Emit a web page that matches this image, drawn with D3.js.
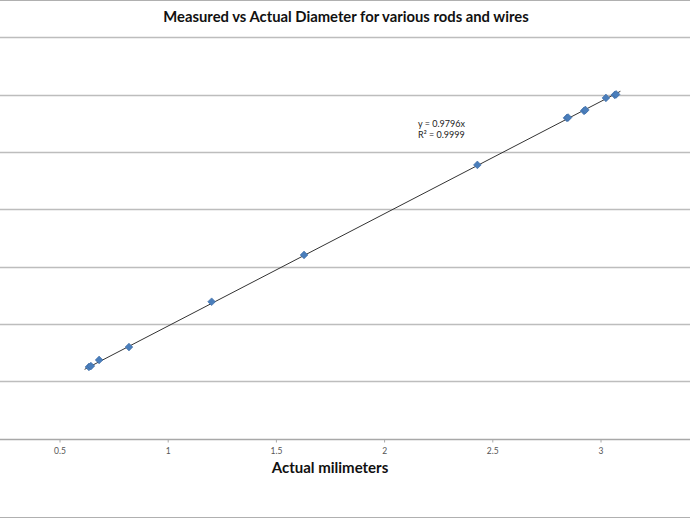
<!DOCTYPE html>
<html><head><meta charset="utf-8">
<script src="https://cdn.jsdelivr.net/npm/d3@7"></script>
<style>body{margin:0;background:#fff}svg{display:block}</style>
</head><body>
<svg id="c" width="690" height="518"></svg>
<script>
const actual   = [0.636, 0.645, 0.683, 0.821, 1.203, 1.630, 2.431, 2.845, 2.850, 2.924, 2.930, 3.025, 3.066, 3.072];
const measured = [0.624, 0.632, 0.685, 0.798, 1.193, 1.601, 2.387, 2.797, 2.800, 2.858, 2.866, 2.971, 2.997, 3.002];
const xTicks = [0.5, 1, 1.5, 2, 2.5, 3];
const yGrid = [0, 0.5, 1, 1.5, 2, 2.5, 3, 3.5];
const slope = 0.9796;
const eqLabels = ["y = 0.9796x", "R² = 0.9999"];
const title = "Measured vs Actual Diameter for various rods and wires";
const xTitle = "Actual milimeters";

const svg = d3.select("#c");
const x = d3.scaleLinear().domain([0, 3.5]).range([-48.7, 708.7]);
const y = d3.scaleLinear().domain([0, 3.5]).range([438.5, 37.3]);

// chart border lines
svg.append("line").attr("x1",0).attr("x2",690).attr("y1",0.5).attr("y2",0.5).attr("stroke","#b0b0b0");
svg.append("line").attr("x1",0).attr("x2",690).attr("y1",517.5).attr("y2",517.5).attr("stroke","#b0b0b0");

// gridlines
svg.append("g").selectAll("line").data(yGrid.slice(1)).join("line")
  .attr("x1",0).attr("x2",690)
  .attr("y1",d=>Math.round(y(d))+0.5).attr("y2",d=>Math.round(y(d))+0.5)
  .attr("stroke","#bdbdbd").attr("stroke-width",1.3);

// x axis
const xAxis = d3.axisBottom(x).tickValues(xTicks).tickSize(3).tickFormat(d=>String(d));
const gx = svg.append("g").attr("transform",`translate(0,${Math.round(y(0))+0.5})`).call(xAxis);
gx.select(".domain").attr("stroke","#a8a8a8").attr("stroke-width",1.3).attr("d","M0,0H690");
gx.selectAll(".tick line").attr("stroke","#a8a8a8");
gx.selectAll(".tick text").attr("fill","#555").attr("font-family","Lato, 'Open Sans', sans-serif")
  .attr("font-size",8.5).attr("dy","0.95em");

// trendline
const x0 = d3.min(actual)-0.02, x1 = d3.max(actual)+0.02;
svg.append("line").attr("x1",x(x0)).attr("y1",y(slope*x0)).attr("x2",x(x1)).attr("y2",y(slope*x1))
  .attr("stroke","#333").attr("stroke-width",1);

// points
const diamond = d3.symbol().type(d3.symbolDiamond2).size(38);
svg.append("g").selectAll("path").data(actual).join("path")
  .attr("d",diamond)
  .attr("transform",(d,i)=>`translate(${x(d)},${y(measured[i])})`)
  .attr("fill","#4a7ebb").attr("stroke","#3a6aa5").attr("stroke-width",0.6);

// equation
svg.append("g").selectAll("text").data(eqLabels).join("text")
  .attr("x",418).attr("y",(d,i)=>127+i*10.5)
  .attr("font-family","Lato, 'Open Sans', sans-serif").attr("font-size",9).attr("fill","#222")
  .text(d=>d);

// titles
svg.append("text").attr("x",346).attr("y",22).attr("text-anchor","middle")
  .attr("font-family","Lato, 'Open Sans', sans-serif").attr("font-weight","bold").attr("font-size",14.8)
  .attr("fill","#111").text(title);
svg.append("text").attr("x",330).attr("y",473).attr("text-anchor","middle")
  .attr("font-family","Lato, 'Open Sans', sans-serif").attr("font-weight","bold").attr("font-size",15)
  .attr("fill","#111").text(xTitle);
</script>
</body></html>
